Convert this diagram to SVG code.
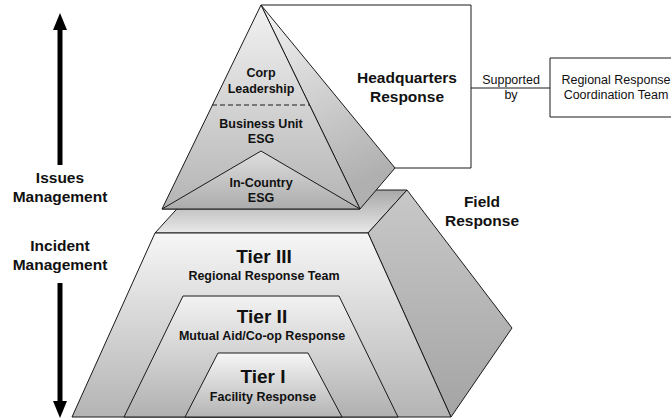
<svg xmlns="http://www.w3.org/2000/svg" width="671" height="419" viewBox="0 0 671 419">
<defs>
<linearGradient id="gTrap" x1="0" y1="0" x2="0" y2="1"><stop offset="0" stop-color="#f6f6f6"/><stop offset="1" stop-color="#b4b4b4"/></linearGradient>
<linearGradient id="gT2" x1="0" y1="0" x2="0" y2="1"><stop offset="0" stop-color="#f2f2f2"/><stop offset="1" stop-color="#b0b0b0"/></linearGradient>
<linearGradient id="gSlab" x1="0" y1="0" x2="0" y2="1"><stop offset="0" stop-color="#a8a8a8"/><stop offset="1" stop-color="#e8e8e8"/></linearGradient>
<linearGradient id="gSide" x1="0" y1="0" x2="0" y2="1"><stop offset="0" stop-color="#c8c8c8"/><stop offset="1" stop-color="#a4a4a4"/></linearGradient>
<linearGradient id="gPyr" x1="0" y1="0" x2="0" y2="1"><stop offset="0" stop-color="#f2f2f2"/><stop offset="1" stop-color="#b4b4b4"/></linearGradient>
<linearGradient id="gPyrSide" x1="0" y1="0" x2="0.3" y2="1"><stop offset="0" stop-color="#f4f4f4"/><stop offset="1" stop-color="#b0b0b0"/></linearGradient>
<linearGradient id="gInner" x1="0" y1="0" x2="0" y2="1"><stop offset="0" stop-color="#dedede"/><stop offset="1" stop-color="#acacac"/></linearGradient>
<marker id="ah" viewBox="0 0 17 14" refX="0" refY="7" markerWidth="17" markerHeight="14" markerUnits="userSpaceOnUse" orient="auto"><path d="M0,0 L17,7 L0,14 z" fill="#000"/></marker>
<style>
.sh{stroke:#1a1a1a;stroke-width:1;stroke-linejoin:round}
.b{font-family:"Liberation Sans",Arial,sans-serif;font-weight:bold;fill:#111;text-anchor:middle}
.r{font-family:"Liberation Sans",Arial,sans-serif;fill:#111;text-anchor:middle;font-size:12.5px}
.s{font-size:12.5px}
.m{font-size:15.5px}
.t{font-size:19px}
.arr{stroke:#000;stroke-width:5;fill:none}
</style>
</defs>
<g id="field-block">
<polygon class="sh" points="155,233 368,233 407,190 194,190" fill="url(#gSlab)"/>
<polygon class="sh" points="368,233 407,190 512,328 451,417" fill="url(#gSide)"/>
</g>
<g id="tier3">
<polygon class="sh" points="155,233 368,233 451,417 72,417" fill="url(#gTrap)"/>
<text class="b t" x="264" y="263">Tier III</text>
<text class="b s" x="264" y="280">Regional Response Team</text>
</g>
<g id="tier2">
<polygon class="sh" points="183,296 339,296 398,417 124,417" fill="url(#gT2)"/>
<text class="b t" x="262" y="323">Tier II</text>
<text class="b s" x="262" y="340">Mutual Aid/Co-op Response</text>
</g>
<g id="tier1">
<polygon class="sh" points="218,353 308,353 342,417 185,417" fill="url(#gTrap)"/>
<text class="b t" x="263" y="383">Tier I</text>
<text class="b s" x="263" y="401">Facility Response</text>
</g>
<g id="hq-pyramid">
<polygon class="sh" points="261,5 395,168 360,209" fill="url(#gPyrSide)"/>
<polygon class="sh" points="261,5 162,209 360,209" fill="url(#gPyr)"/>
<line class="sh" x1="212" y1="105" x2="310" y2="105" stroke-dasharray="5,3"/>
<text class="b s" x="261" y="77">Corp</text>
<text class="b s" x="261" y="93">Leadership</text>
<text class="b s" x="261" y="128">Business Unit</text>
<text class="b s" x="261" y="143">ESG</text>
</g>
<g id="in-country">
<polygon class="sh" points="261,151 162,209 360,209" fill="url(#gInner)"/>
<text class="b s" x="261" y="187">In-Country</text>
<text class="b s" x="261" y="202">ESG</text>
</g>
<g id="hq-response">
<path class="sh" d="M261,5 H471 V168 H395" fill="none" stroke-width="1.3"/>
<text class="b m" x="407" y="83">Headquarters</text>
<text class="b m" x="407" y="102">Response</text>
</g>
<g id="rrct">
<rect class="sh" x="550" y="58" width="135" height="59" fill="#fff"/>
<text class="r" x="616" y="84">Regional Response</text>
<text class="r" x="616" y="99">Coordination Team</text>
</g>
<g id="labels">
<text class="b m" x="482" y="207">Field</text>
<text class="b m" x="482" y="226">Response</text>
<text class="b m" x="60" y="183">Issues</text>
<text class="b m" x="60" y="202">Management</text>
<text class="b m" x="60" y="251">Incident</text>
<text class="b m" x="60" y="270">Management</text>
</g>
<g id="connectors">
<line class="sh" x1="471" y1="88" x2="550" y2="88"/>
<text class="r" x="511" y="84">Supported</text>
<text class="r" x="511" y="99">by</text>
<line class="arr" x1="60" y1="165" x2="60" y2="30" marker-end="url(#ah)"/>
<line class="arr" x1="60" y1="283" x2="60" y2="401" marker-end="url(#ah)"/>
</g>
</svg>
